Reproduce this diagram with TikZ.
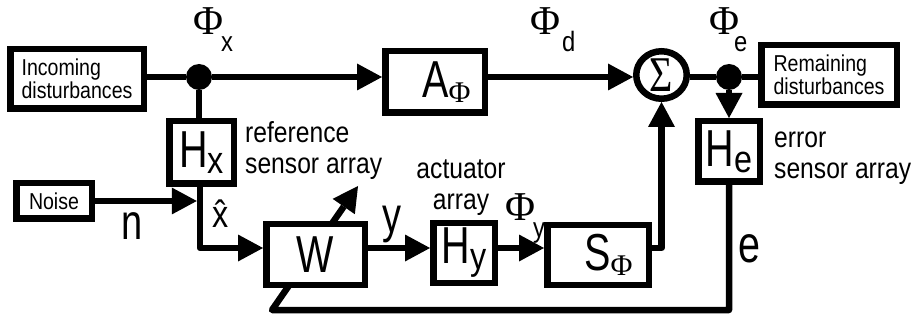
\documentclass[tikz,border=0pt]{standalone}
\usepackage{fontspec}
\setmainfont{Liberation Sans}[FakeStretch=0.85]
\newfontfamily\tallsans{Liberation Sans}[FakeStretch=0.76]
\newfontfamily\phifont{Liberation Serif}
\newfontfamily\sigmafont{Liberation Serif}[FakeStretch=0.8]
\usetikzlibrary{arrows.meta,shapes.geometric}

\newcommand{\fsz}[1]{\fontsize{#1pt}{#1pt}\selectfont}
\newcommand{\philab}[2]{{\phifont\fsz{41}Φ}\kern#1pt\raisebox{-17pt}{\fsz{28}#2}}
\newcommand{\boxlab}[2]{{\tallsans\fsz{52}#1}\raisebox{-6pt}{\fsz{38}#2}}
\newcommand{\boxphi}[1]{{\tallsans\fsz{52}#1}\raisebox{-5pt}{\phifont\fsz{30}Φ}}

\begin{document}
\begin{tikzpicture}[x=1pt,y=-1pt,
  blk/.style={draw, line width=6.5pt, fill=white, inner sep=0pt},
  conn/.style={line width=6.5pt, line join=round},
  arr/.style={conn, -{Triangle[length=25pt,width=27pt,line width=0pt]}},
  dotnode/.style={circle, fill=black, minimum size=26pt, inner sep=0pt},
  ann/.style={inner sep=0pt, align=left, font=\fontsize{29pt}{31pt}\selectfont},
  boxtext/.style={align=left, font=\fontsize{23pt}{21pt}\selectfont},
  biglab/.style={anchor=base, inner sep=0pt, font=\tallsans\fsz{50}},
  philabel/.style={anchor=base west, inner sep=0pt}
]
\useasboundingbox (0,0) rectangle (917,320);

% nodes
\node[blk, boxtext, minimum width=133.5pt, minimum height=59.5pt] (inc) at (77,79) {Incoming\\disturbances};
\node[blk, minimum width=99.5pt, minimum height=61.5pt] (aphi) at (435,82) {\hspace*{23pt}\boxphi{A}};
\node[blk, ellipse, minimum width=50.5pt, minimum height=47.5pt] (sum) at (661.5,75) {\sigmafont\fsz{50}Σ};
\node[dotnode] (d1) at (199,77) {};
\node[dotnode] (d2) at (729,77) {};
\node[blk, boxtext, minimum width=135.5pt, minimum height=59.5pt] (rem) at (829,75) {Remaining\\disturbances};
\node[blk, minimum width=64.5pt, minimum height=62.5pt] (hx) at (201.5,152.5) {\boxlab{H}{x}};
\node[blk, minimum width=61.5pt, minimum height=60.5pt] (he) at (729,151.5) {\boxlab{H}{e}};
\node[blk, minimum width=75.5pt, minimum height=35.5pt, font=\fsz{23}] (noise) at (54,201) {Noise};
\node[blk, minimum width=61.5pt, minimum height=59.5pt] (hy) at (464,253) {\boxlab{H}{y}};
\node[blk, minimum width=101.5pt, minimum height=59.5pt] (s) at (598,255) {\hspace*{21pt}\boxphi{S}};

% feedback / adaptation line (behind W)
\coordinate (fbcorner) at (272,310);
\coordinate (adapttip) at (358,186);
\draw[arr] (he.south) |- (fbcorner) -- (adapttip);

\node[blk, minimum width=98.5pt, minimum height=60.5pt] (w) at (315.5,254.5) {{\tallsans\fsz{52}W}};

% connectors
\coordinate (hxturn) at (200,248);
\draw[conn] (inc.east |- d1) -- (d1);
\draw[arr] (d1) -- (d1 -| aphi.west);
\draw[arr] (aphi.east |- d1) -- (d1 -| sum.west);
\draw[conn] (sum.east |- d2) -- (d2) -- (d2 -| rem.west);
\draw[conn] (d1) -- (d1 |- hx.north);
\draw[arr] (hx.south -| hxturn) -- (hxturn) -- (hxturn -| w.west);
\draw[arr, shorten >=3.25pt] (noise.east) -- (noise.east -| hxturn);
\draw[arr] (w.east |- hxturn) -- (hxturn -| hy.west);
\draw[arr] (hy.east |- hxturn) -- (hxturn -| s.west);
\draw[arr] (s.east |- hxturn) -| (sum.south);
\draw[arr] (d2) -- (he.north);

% labels
\node[philabel] (phix) at (193,35) {\philab{-2}{x}};
\node[philabel] (phid) at (530,35) {\philab{2}{d}};
\node[philabel] (phie) at (709,35) {\philab{-5}{e}};
\node[philabel] (phiy) at (505,221) {\philab{-2}{y}};
\node[biglab] (nlab) at (132,240) {n};
\node[biglab] (ylab) at (392,232.5) {y};
\node[biglab, font=\tallsans\fsz{52}] (elab) at (749.5,262) {e};
\node[anchor=base, inner sep=0pt, font=\fsz{38}] (xhat) at (221,228) {\^{x}};

\node[ann, anchor=base west] (refl) at (245,174) {reference\\sensor array};
\node[ann, anchor=base, align=center] (actl) at (461,210) {actuator\\array};
\node[ann, anchor=base west] (errl) at (774,179) {error\\sensor array};
\end{tikzpicture}
\end{document}
